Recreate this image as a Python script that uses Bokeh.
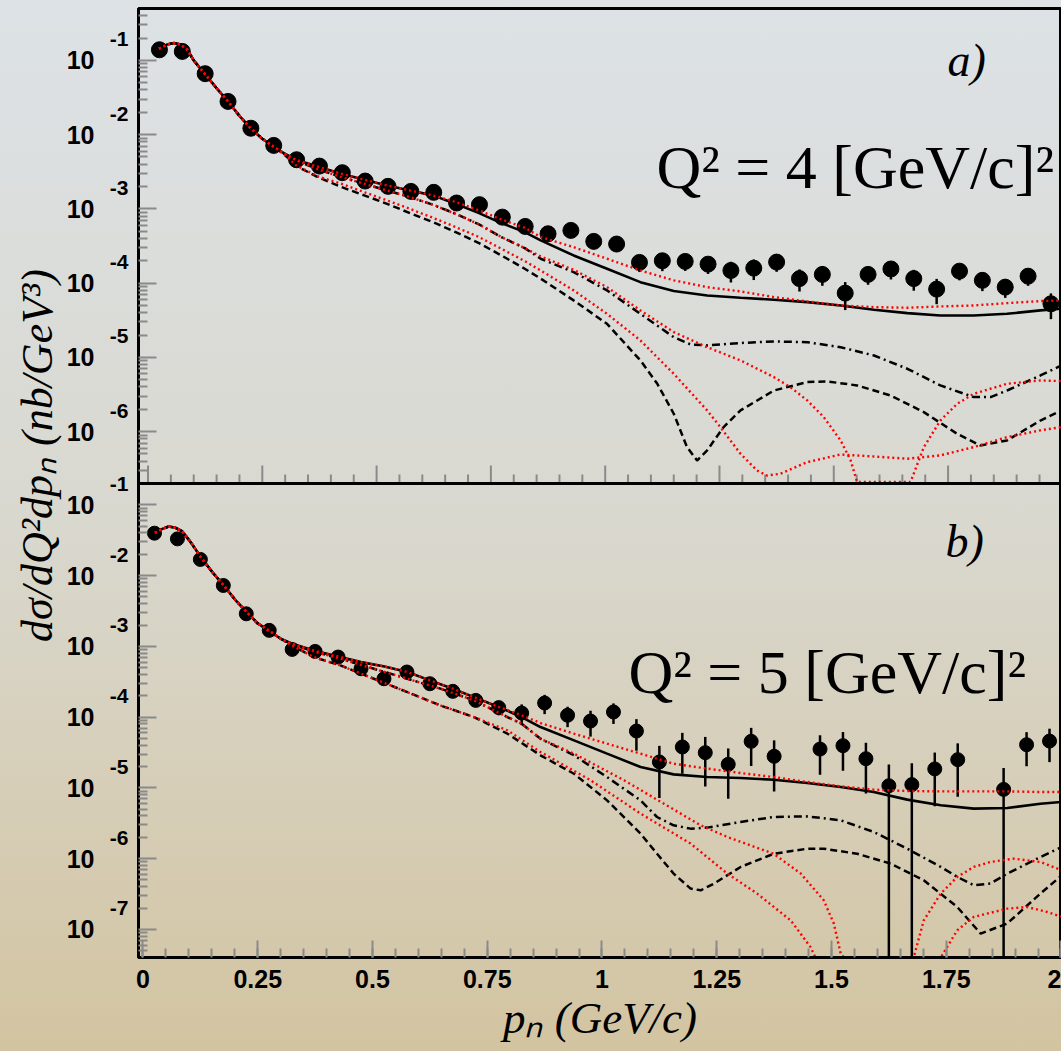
import math
from bokeh.plotting import figure
from bokeh.models import (Range1d, LogScale, LinearScale, LogAxis, FixedTicker, CustomJSTickFormatter,
                          Span, Label)
from bokeh.embed import file_html
from bokeh.resources import INLINE

# ---------------- data : panel a) Q^2 = 4 ----------------
pa_x = [0.025, 0.075, 0.125, 0.175, 0.225, 0.275, 0.325, 0.375, 0.425, 0.475,
        0.525, 0.575, 0.625, 0.675, 0.725, 0.775, 0.825, 0.875, 0.925, 0.975,
        1.025, 1.075, 1.125, 1.175, 1.225, 1.275, 1.325, 1.375, 1.425, 1.475,
        1.525, 1.575, 1.625, 1.675, 1.725, 1.775, 1.825, 1.875, 1.925, 1.975]
pa_y = [1.39e-1, 1.32e-1, 6.62e-2, 2.80e-2, 1.22e-2, 7.16e-3, 4.59e-3, 3.77e-3, 3.07e-3, 2.37e-3,
        2.01e-3, 1.72e-3, 1.67e-3, 1.20e-3, 1.14e-3, 7.74e-4, 5.80e-4, 4.62e-4, 5.13e-4, 3.65e-4,
        3.36e-4, 1.90e-4, 2.00e-4, 1.96e-4, 1.80e-4, 1.48e-4, 1.59e-4, 1.92e-4, 1.15e-4, 1.31e-4,
        7.33e-5, 1.31e-4, 1.55e-4, 1.15e-4, 8.30e-5, 1.45e-4, 1.09e-4, 8.83e-5, 1.24e-4, 5.27e-5]
pa_err = [5.6e-3, 5.3e-3, 2.6e-3, 1.1e-3, 4.9e-4, 2.9e-4, 1.8e-4, 1.5e-4, 1.2e-4, 9.5e-5,
          8.0e-5, 6.9e-5, 6.7e-5, 4.8e-5, 4.6e-5, 3.1e-5, 2.3e-5, 2.3e-5, 2.6e-5, 2.2e-5,
          2.0e-5, 4.9e-5, 5.5e-5, 5.0e-5, 4.7e-5, 4.6e-5, 4.9e-5, 5.0e-5, 3.8e-5, 3.9e-5,
          3.0e-5, 3.6e-5, 4.3e-5, 3.6e-5, 3.1e-5, 3.6e-5, 3.1e-5, 2.5e-5, 3.2e-5, 2.0e-5]

# curves, panel a: common low-momentum part + individual tails
a_front_x = [0.024, 0.042, 0.057, 0.071, 0.086, 0.100, 0.124, 0.151, 0.175, 0.199, 0.224, 0.250, 0.274]
a_front_y = [1.44e-1, 1.64e-1, 1.71e-1, 1.64e-1, 1.39e-1, 1.00e-1, 6.61e-2, 4.15e-2, 2.81e-2, 1.82e-2,
             1.22e-2, 8.81e-3, 6.93e-3]
a_tot_x = [0.297, 0.324, 0.374, 0.423, 0.473, 0.523, 0.573, 0.623, 0.673, 0.724, 0.773, 0.824, 0.859,
           0.931, 1.004, 1.077, 1.150, 1.223, 1.296, 1.369, 1.442, 1.515, 1.588, 1.661, 1.733, 1.806,
           1.879, 1.952, 1.998]
a_tot_y = [5.65e-3, 4.59e-3, 3.66e-3, 2.97e-3, 2.47e-3, 2.07e-3, 1.77e-3, 1.52e-3, 1.17e-3, 8.77e-4,
           6.44e-4, 4.86e-4, 3.76e-4, 2.36e-4, 1.56e-4, 1.03e-4, 7.82e-5, 6.82e-5, 6.35e-5, 5.97e-5,
           5.55e-5, 5.00e-5, 4.38e-5, 3.94e-5, 3.67e-5, 3.67e-5, 3.86e-5, 4.29e-5, 4.52e-5]
a_tot2_y = [5.65e-3, 4.59e-3, 3.66e-3, 2.97e-3, 2.47e-3, 2.07e-3, 1.77e-3, 1.52e-3, 1.24e-3, 9.53e-4,
            7.21e-4, 5.57e-4, 4.17e-4, 3.05e-4, 2.13e-4, 1.48e-4, 1.09e-4, 8.83e-5, 7.73e-5, 6.49e-5,
            5.66e-5, 5.00e-5, 4.75e-5, 4.66e-5, 4.85e-5, 5.00e-5, 5.38e-5, 5.73e-5, 5.85e-5]
a_dd_x = [0.297, 0.324, 0.374, 0.423, 0.473, 0.523, 0.573, 0.623, 0.673, 0.724, 0.773, 0.824, 0.859,
          0.931, 1.004, 1.077, 1.150, 1.187, 1.223, 1.296, 1.369, 1.442, 1.515, 1.588, 1.661, 1.733,
          1.806, 1.843, 1.879, 1.952, 1.998]
a_dd_y = [5.53e-3, 4.50e-3, 3.37e-3, 2.68e-3, 2.18e-3, 1.77e-3, 1.44e-3, 1.14e-3, 8.59e-4, 6.18e-4,
          4.17e-4, 2.96e-4, 2.13e-4, 1.41e-4, 7.98e-5, 3.86e-5, 1.87e-5, 1.49e-5, 1.45e-5, 1.56e-5,
          1.64e-5, 1.60e-5, 1.37e-5, 1.06e-5, 7.02e-6, 4.19e-6, 2.92e-6, 2.92e-6, 3.58e-6, 5.70e-6, 7.78e-6]
a_dd2_x = [0.297, 0.324, 0.374, 0.423, 0.473, 0.523, 0.573, 0.623, 0.673, 0.724, 0.773, 0.824, 0.859,
           0.931, 1.004, 1.077, 1.150, 1.223, 1.296, 1.369, 1.405, 1.442, 1.478, 1.515, 1.537, 1.551,
           1.610, 1.668, 1.697, 1.733, 1.770, 1.806, 1.879, 1.952, 1.998]
a_dd2_y = [5.53e-3, 4.50e-3, 3.37e-3, 2.68e-3, 2.18e-3, 1.77e-3, 1.44e-3, 1.14e-3, 8.59e-4, 6.18e-4,
           4.17e-4, 2.96e-4, 2.29e-4, 1.51e-4, 8.83e-5, 4.29e-5, 2.19e-5, 1.37e-5, 9.10e-6, 5.42e-6,
           3.97e-6, 2.63e-6, 1.57e-6, 7.60e-7, 4.08e-7, 2.1e-7, 2.1e-7, 2.1e-7, 6.18e-7, 1.41e-6,
           2.37e-6, 3.23e-6, 4.41e-6, 4.89e-6, 4.79e-6]
a_da_x = [0.297, 0.324, 0.374, 0.423, 0.473, 0.523, 0.573, 0.623, 0.673, 0.724, 0.773, 0.824, 0.859,
          0.931, 1.004, 1.077, 1.114, 1.150, 1.179, 1.201, 1.223, 1.259, 1.296, 1.369, 1.442, 1.486,
          1.551, 1.624, 1.697, 1.770, 1.821, 1.879, 1.952, 1.998]
a_da_y = [5.50e-3, 3.80e-3, 2.63e-3, 1.97e-3, 1.52e-3, 1.17e-3, 8.77e-4, 6.64e-4, 4.86e-4, 3.46e-4,
          2.36e-4, 1.56e-4, 1.15e-4, 5.85e-5, 2.83e-5, 9.10e-6, 4.41e-6, 1.74e-6, 6.18e-7, 4.08e-7,
          5.57e-7, 1.15e-6, 1.93e-6, 3.58e-6, 4.65e-6, 4.74e-6, 4.19e-6, 3.07e-6, 1.83e-6, 9.33e-7,
          6.50e-7, 7.60e-7, 1.41e-6, 1.93e-6]
a_da2_x = [0.297, 0.324, 0.374, 0.423, 0.473, 0.523, 0.573, 0.623, 0.673, 0.724, 0.773, 0.824, 0.859,
           0.931, 1.004, 1.077, 1.150, 1.223, 1.252, 1.296, 1.332, 1.354, 1.383, 1.442, 1.515, 1.588,
           1.661, 1.733, 1.806, 1.879, 1.952, 1.998]
a_da2_y = [5.50e-3, 3.85e-3, 2.70e-3, 2.18e-3, 1.68e-3, 1.30e-3, 1.00e-3, 7.59e-4, 5.69e-4, 4.17e-4,
           2.90e-4, 1.98e-4, 1.48e-4, 7.98e-5, 3.86e-5, 1.69e-5, 6.01e-6, 1.93e-6, 1.15e-6, 5.02e-7,
           3.00e-7, 2.56e-7, 2.70e-7, 3.88e-7, 4.92e-7, 4.62e-7, 4.31e-7, 4.78e-7, 6.18e-7, 8.43e-7,
           1.04e-6, 1.15e-6]

# ---------------- data : panel b) Q^2 = 5 ----------------
pb_x = [0.025, 0.075, 0.125, 0.175, 0.225, 0.275, 0.325, 0.375, 0.425, 0.475,
        0.525, 0.575, 0.625, 0.675, 0.725, 0.775, 0.825, 0.875, 0.925, 0.975,
        1.025, 1.075, 1.125, 1.175, 1.225, 1.275, 1.325, 1.375, 1.475, 1.525,
        1.575, 1.625, 1.675, 1.725, 1.775, 1.875, 1.925, 1.975]
pb_y = [3.97e-2, 3.30e-2, 1.69e-2, 7.24e-3, 2.88e-3, 1.68e-3, 9.04e-4, 8.47e-4, 7.05e-4, 4.82e-4,
        3.48e-4, 4.33e-4, 2.96e-4, 2.31e-4, 1.72e-4, 1.36e-4, 1.14e-4, 1.58e-4, 1.06e-4, 8.79e-5,
        1.18e-4, 6.35e-5, 2.32e-5, 3.78e-5, 3.14e-5, 2.15e-5, 4.54e-5, 2.79e-5, 3.53e-5, 3.94e-5,
        2.58e-5, 1.07e-5, 1.11e-5, 1.85e-5, 2.50e-5, 9.5e-6, 4.07e-5, 4.58e-5]
pb_err = [1.6e-3, 1.3e-3, 6.8e-4, 2.9e-4, 1.2e-4, 6.7e-5, 3.6e-5, 3.4e-5, 2.8e-5, 1.9e-5,
          1.4e-5, 1.7e-5, 1.2e-5, 1.2e-5, 1.5e-5, 3.0e-5, 3.7e-5, 4.8e-5, 3.4e-5, 3.5e-5,
          3.8e-5, 3.0e-5, 1.6e-5, 2.2e-5, 2.1e-5, 1.45e-5, 2.5e-5, 1.9e-5, 2.0e-5, 2.2e-5,
          1.75e-5, 1.07e-5, 1.11e-5, 1.3e-5, 1.75e-5, 9.5e-6, 2.05e-5, 2.27e-5]

b_front_x = [0.026, 0.042, 0.056, 0.071, 0.085, 0.104, 0.127, 0.151, 0.176, 0.202, 0.226, 0.249, 0.276, 0.300]
b_front_y = [4.02e-2, 4.57e-2, 4.93e-2, 4.73e-2, 4.25e-2, 2.96e-2, 1.78e-2, 1.12e-2, 7.24e-3, 4.45e-3,
             3.04e-3, 2.13e-3, 1.64e-3, 1.28e-3]
b_tot_x = [0.325, 0.376, 0.425, 0.475, 0.526, 0.576, 0.625, 0.675, 0.725, 0.775, 0.825, 0.866, 0.939,
           1.011, 1.084, 1.156, 1.229, 1.302, 1.374, 1.447, 1.520, 1.592, 1.665, 1.738, 1.810, 1.883,
           1.955, 2.002]
b_tot_y = [1.09e-3, 8.57e-4, 7.19e-4, 5.98e-4, 5.20e-4, 4.33e-4, 3.30e-4, 2.52e-4, 1.87e-4, 1.39e-4,
           1.00e-4, 7.23e-5, 4.69e-5, 3.04e-5, 1.97e-5, 1.55e-5, 1.42e-5, 1.38e-5, 1.30e-5, 1.17e-5,
           1.03e-5, 8.73e-6, 6.81e-6, 5.66e-6, 5.08e-6, 5.19e-6, 5.97e-6, 6.31e-6]
b_tot2_y = [1.09e-3, 8.57e-4, 7.19e-4, 5.98e-4, 5.20e-4, 4.33e-4, 3.30e-4, 2.52e-4, 1.87e-4, 1.39e-4,
            1.06e-4, 8.24e-5, 5.82e-5, 4.21e-5, 3.04e-5, 2.19e-5, 1.87e-5, 1.62e-5, 1.42e-5, 1.21e-5,
            1.05e-5, 9.42e-6, 9.02e-6, 8.91e-6, 8.91e-6, 8.91e-6, 8.73e-6, 8.73e-6]
b_dd_x = [0.325, 0.376, 0.430, 0.503, 0.576, 0.648, 0.721, 0.794, 0.825, 0.866, 0.939, 1.011, 1.084,
          1.120, 1.156, 1.193, 1.229, 1.302, 1.374, 1.447, 1.520, 1.592, 1.665, 1.738, 1.774, 1.810,
          1.846, 1.883, 1.955, 2.002]
b_dd_y = [1.07e-3, 8.32e-4, 6.67e-4, 4.82e-4, 3.48e-4, 2.52e-4, 1.72e-4, 1.00e-4, 8.05e-5, 4.94e-5,
          2.88e-5, 1.42e-5, 6.65e-6, 3.87e-6, 2.95e-6, 2.65e-6, 2.74e-6, 3.29e-6, 3.87e-6, 3.95e-6,
          3.48e-6, 2.38e-6, 1.38e-6, 7.62e-7, 5.51e-7, 4.20e-7, 4.43e-7, 6.14e-7, 1.05e-6, 1.46e-6]
b_dd2_x = [0.325, 0.376, 0.430, 0.503, 0.576, 0.648, 0.721, 0.794, 0.825, 0.866, 0.939, 1.048, 1.215,
           1.273, 1.374, 1.433, 1.483, 1.505, 1.520, 1.527, 1.600, 1.679, 1.701, 1.738, 1.774, 1.810,
           1.846, 1.897, 1.955, 2.002]
b_dd2_y = [1.07e-3, 8.32e-4, 6.67e-4, 4.82e-4, 3.48e-4, 2.52e-4, 1.72e-4, 1.00e-4, 8.05e-5, 4.94e-5,
           3.04e-5, 1.28e-5, 2.95e-6, 2.02e-6, 1.17e-6, 6.14e-7, 2.58e-7, 1.21e-7, 4.55e-8, 4.0e-8,
           4.0e-8, 4.0e-8, 1.34e-7, 3.20e-7, 5.51e-7, 7.62e-7, 8.95e-7, 9.98e-7, 8.95e-7, 6.84e-7]
b_da_x = [0.325, 0.372, 0.430, 0.503, 0.576, 0.648, 0.721, 0.794, 0.866, 0.939, 1.011, 1.084, 1.120,
          1.156, 1.193, 1.215, 1.244, 1.302, 1.374, 1.447, 1.483, 1.556, 1.629, 1.701, 1.774, 1.825,
          1.883, 1.955, 2.002]
b_da_y = [1.02e-3, 7.05e-4, 5.37e-4, 3.48e-4, 2.25e-4, 1.46e-4, 1.00e-4, 5.82e-5, 2.88e-5, 1.58e-5,
          6.65e-6, 2.25e-6, 1.17e-6, 6.14e-7, 3.77e-7, 3.56e-7, 4.43e-7, 7.62e-7, 1.17e-6, 1.38e-6,
          1.38e-6, 1.17e-6, 8.49e-7, 4.93e-7, 2.07e-7, 8.71e-8, 1.21e-7, 3.20e-7, 5.81e-7]
b_da2_x = [0.325, 0.372, 0.430, 0.503, 0.576, 0.648, 0.721, 0.794, 0.866, 0.975, 1.084, 1.193, 1.273,
           1.338, 1.411, 1.454, 1.465, 1.600, 1.738, 1.774, 1.810, 1.883, 1.926, 1.970, 2.002]
b_da2_y = [1.02e-3, 7.05e-4, 5.37e-4, 3.48e-4, 2.25e-4, 1.46e-4, 1.00e-4, 6.49e-5, 3.21e-5, 1.28e-5,
           4.32e-6, 1.63e-6, 6.14e-7, 3.20e-7, 1.34e-7, 5.65e-8, 4.0e-8, 4.0e-8, 4.0e-8, 9.70e-8,
           1.50e-7, 1.96e-7, 2.07e-7, 1.76e-7, 1.50e-7]

x_ticks = [0, 0.25, 0.5, 0.75, 1, 1.25, 1.5, 1.75, 2]
x_tick_labels = ["0", "0.25", "0.5", "0.75", "1", "1.25", "1.5", "1.75", "2"]
a_decades = [-6, -5, -4, -3, -2, -1]
b_decades = [-7, -6, -5, -4, -3, -2, -1]
y_title = "dσ/dQ²dpₙ (nb/GeV³)"
x_title = "pₙ (GeV/c)"

# ---------------- layout geometry (pixels) ----------------
W, H = 1061, 1051
FL, FR, FT, FB, MID = 138, 1061, 8, 957, 483
A_LO, A_HI = 2e-7, 0.5
B_LO, B_HI = 4e-8, 0.2
XB0, XB1 = -0.0098, 2.0011      # bottom panel x-range
XA0, XA1 = -0.0208, 1.9981      # top panel x-range (slightly shifted in the original)

FRAME_H = FB - FT
PA_H, PB_H = MID - FT, FB - MID
LB0, LB1 = math.log10(B_LO), math.log10(B_HI)
LA0, LA1 = math.log10(A_LO), math.log10(A_HI)
LB_TOP = LB0 + (LB1 - LB0) * FRAME_H / PB_H
LA_BOT = LA1 - (LA1 - LA0) * FRAME_H / PA_H


def py_to_main(py):
    return 10 ** (LB0 + (FB - py) / FRAME_H * (LB_TOP - LB0))


def main_to_py(v):
    return FB - (math.log10(v) - LB0) / (LB_TOP - LB0) * FRAME_H


def a_to_main(v):
    py = FT + (LA1 - math.log10(v)) / (LA1 - LA0) * PA_H
    return py_to_main(py)


def px_to_x(px):
    return XB0 + (px - FL) / (FR - FL) * (XB1 - XB0)


p = figure(width=W, height=H, x_range=Range1d(XB0, XB1), y_range=Range1d(B_LO, 10 ** LB_TOP),
           y_axis_type="log", output_backend="svg", toolbar_location=None,
           min_border_left=FL, min_border_right=0, min_border_top=FT, min_border_bottom=H - FB)
p.extra_x_ranges = {"a": Range1d(XA0, XA1)}
p.extra_y_ranges = {"a": Range1d(10 ** LA_BOT, A_HI)}
p.extra_x_scales = {"a": LinearScale()}
p.extra_y_scales = {"a": LogScale()}

p.background_fill_color = None
p.border_fill_color = None
p.styles = {"background": "linear-gradient(180deg, #dde2e6 0%, #d9d8cf 50%, #d3c4a1 100%)"}
p.outline_line_color = "black"
p.outline_line_width = 3
p.xgrid.visible = False
p.ygrid.visible = False

TICK_C = "#8a8a8a"
# ---- y axes: 1) ticks  2) exponents  3) "10" mantissas + title ----
major = sorted([10.0 ** k for k in b_decades] + [a_to_main(10.0 ** k) for k in a_decades])
major_exp = sorted(list(zip([10.0 ** k for k in b_decades] + [a_to_main(10.0 ** k) for k in a_decades],
                            [str(k) for k in b_decades] + [str(k) for k in a_decades])))
b_minor = [m * 10.0 ** k for k in range(-8, 0) for m in range(2, 10) if B_LO < m * 10.0 ** k < B_HI * 0.999]
a_minor = [a_to_main(m * 10.0 ** k) for k in range(-7, 0) for m in range(2, 10)
           if A_LO * 1.001 < m * 10.0 ** k < A_HI * 0.999]

yax = p.yaxis[0]
yax.ticker = FixedTicker(ticks=major, minor_ticks=b_minor + a_minor)
yax.formatter = CustomJSTickFormatter(code="return '';")
yax.major_label_standoff = 0
yax.axis_line_width = 3
yax.axis_line_color = "black"
yax.major_tick_in = 18
yax.major_tick_out = 0
yax.minor_tick_in = 9
yax.minor_tick_out = 0
yax.major_tick_line_color = TICK_C
yax.minor_tick_line_color = TICK_C
yax.major_tick_line_width = 2
yax.minor_tick_line_width = 2

exp_pos = [py_to_main(main_to_py(v) - 21) for v, _ in major_exp]
exp_lab = [t for _, t in major_exp]
ax_exp = LogAxis(ticker=FixedTicker(ticks=exp_pos, minor_ticks=[]),
                 formatter=CustomJSTickFormatter(args=dict(vals=exp_pos, labels=exp_lab), code="""
                     for (let i = 0; i < vals.length; i++) {
                         if (Math.abs(Math.log(tick) - Math.log(vals[i])) < 1e-6) return labels[i];
                     }
                     return '';"""),
                 axis_line_color=None, major_tick_line_color=None, minor_tick_line_color=None,
                 major_tick_in=0, major_tick_out=0, minor_tick_in=0, minor_tick_out=0,
                 major_label_standoff=10, major_label_text_font="Liberation Sans",
                 major_label_text_font_style="bold", major_label_text_font_size="21px",
                 major_label_text_color="black")
p.add_layout(ax_exp, "left")

ax_ten = LogAxis(ticker=FixedTicker(ticks=major, minor_ticks=[]),
                 formatter=CustomJSTickFormatter(code="return '10';"),
                 axis_line_color=None, major_tick_line_color=None, minor_tick_line_color=None,
                 major_tick_in=0, major_tick_out=0, minor_tick_in=0, minor_tick_out=0,
                 major_label_standoff=12, major_label_text_font="Liberation Sans",
                 major_label_text_font_style="bold", major_label_text_font_size="25px",
                 major_label_text_color="black",
                 axis_label="\u00a0" * 5 + y_title, axis_label_standoff=2,
                 axis_label_text_font="Liberation Serif", axis_label_text_font_style="italic",
                 axis_label_text_font_size="44px", axis_label_text_color="black")
p.add_layout(ax_ten, "left")

# ---- x axis ----
xax = p.xaxis[0]
xax.ticker = FixedTicker(ticks=x_ticks, minor_ticks=[round(0.05 * i, 2) for i in range(41)])
xax.major_label_overrides = dict(zip(x_ticks, x_tick_labels))
xax.axis_line_width = 3
xax.axis_line_color = "black"
xax.major_tick_in = 17
xax.major_tick_out = 0
xax.minor_tick_in = 9
xax.minor_tick_out = 0
xax.major_tick_line_color = TICK_C
xax.minor_tick_line_color = TICK_C
xax.major_tick_line_width = 2
xax.minor_tick_line_width = 2
xax.major_label_standoff = 12
xax.major_label_text_font = "Liberation Sans"
xax.major_label_text_font_style = "bold"
xax.major_label_text_font_size = "25px"
xax.major_label_text_color = "black"
xax.axis_label = x_title
xax.axis_label_standoff = 2
xax.axis_label_text_font = "Liberation Serif"
xax.axis_label_text_font_style = "italic"
xax.axis_label_text_font_size = "45px"
xax.axis_label_text_color = "black"

# ---- divider between panels and its x ticks (top panel) ----
p.add_layout(Span(location=A_LO, dimension="width", y_range_name="a",
                  line_color="black", line_width=3))
dec_per_px_a = (LA1 - LA0) / PA_H
tick_pos = [round(0.05 * i, 2) for i in range(41)]
tick_top = [A_LO * 10 ** ((18 if abs(t / 0.25 - round(t / 0.25)) < 1e-9 else 9) * dec_per_px_a) for t in tick_pos]
p.segment(x0=tick_pos, y0=[A_LO] * len(tick_pos), x1=tick_pos, y1=tick_top,
          line_color=TICK_C, line_width=2, x_range_name="a", y_range_name="a")

# ---- data points with error bars ----
pa_lo = [max(y - e, 1e-12) for y, e in zip(pa_y, pa_err)]
pa_hi = [y + e for y, e in zip(pa_y, pa_err)]
pb_lo = [max(y - e, 1e-12) for y, e in zip(pb_y, pb_err)]
pb_hi = [y + e for y, e in zip(pb_y, pb_err)]
p.segment(x0=pa_x, y0=pa_lo, x1=pa_x, y1=pa_hi, line_color="black", line_width=2.5,
          x_range_name="a", y_range_name="a")
p.scatter(pa_x, pa_y, marker="circle", size=16, color="black", x_range_name="a", y_range_name="a")
p.segment(x0=pb_x, y0=pb_lo, x1=pb_x, y1=pb_hi, line_color="black", line_width=2.5)
p.scatter(pb_x, pb_y, marker="circle", size=14, color="black")

# ---- curves ----
SOLID = dict(line_color="black", line_width=2.6)
DASH = dict(line_color="black", line_width=2.5, line_dash="7 4")
DDOT = dict(line_color="black", line_width=2.5, line_dash="8 4 2 4")
RED = dict(line_color="#ff0000", line_width=2.4, line_dash="2 3")
ra = dict(x_range_name="a", y_range_name="a")

p.line(a_front_x + a_tot_x, a_front_y + a_tot_y, **SOLID, **ra)
p.line(a_front_x + a_dd_x, a_front_y + a_dd_y, **DDOT, **ra)
p.line(a_front_x + a_da_x, a_front_y + a_da_y, **DASH, **ra)
p.line(a_front_x + a_tot_x, a_front_y + a_tot2_y, **RED, **ra)
p.line(a_front_x + a_dd2_x, a_front_y + a_dd2_y, **RED, **ra)
p.line(a_front_x + a_da2_x, a_front_y + a_da2_y, **RED, **ra)

p.line(b_front_x + b_tot_x, b_front_y + b_tot_y, **SOLID)
p.line(b_front_x + b_dd_x, b_front_y + b_dd_y, **DDOT)
p.line(b_front_x + b_da_x, b_front_y + b_da_y, **DASH)
p.line(b_front_x + b_tot_x, b_front_y + b_tot2_y, **RED)
p.line(b_front_x + b_dd2_x, b_front_y + b_dd2_y, **RED)
p.line(b_front_x + b_da2_x, b_front_y + b_da2_y, **RED)


# ---- texts inside the frame ----
def add_text(px, py, text, size, style="normal", font="Liberation Serif"):
    p.add_layout(Label(x=px_to_x(px), y=py_to_main(py), text=text, text_font=font,
                       text_font_size=f"{size}px", text_font_style=style, text_color="black",
                       text_align="left", text_baseline="alphabetic"))


add_text(947, 60, "a)", 46, "italic")
add_text(945, 541, "b)", 46, "italic")
add_text(656, 166, "Q² = 4 [GeV/c]²", 62)
add_text(628, 671, "Q² = 5 [GeV/c]²", 62)

open("out.html", "w").write(file_html(p, INLINE))
